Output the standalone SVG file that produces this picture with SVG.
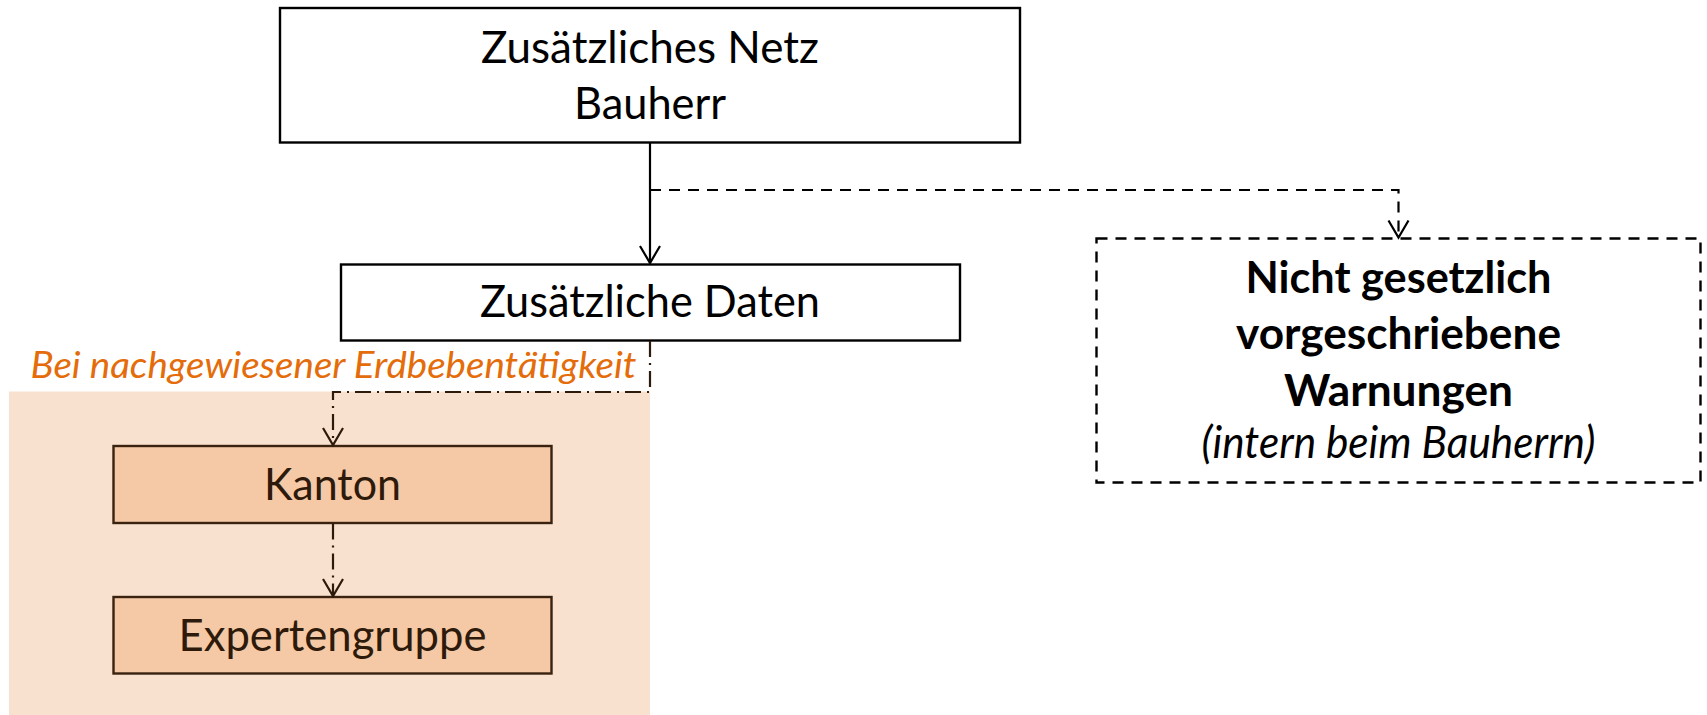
<svg xmlns="http://www.w3.org/2000/svg" width="1707" height="715" viewBox="0 0 1707 715">
<style>
.box{fill:#ffffff;stroke:#000000;stroke-width:2.4}
.obox{fill:#F5C9A5;stroke:#3A2210;stroke-width:2.4}
.dbox{fill:#ffffff;stroke:#000000;stroke-width:2.4;stroke-dasharray:11 8}
.t{font-family:Lato,"Open Sans","Liberation Sans",sans-serif;font-size:44px;fill:#000000;text-anchor:middle}
.tb{font-weight:bold}
.ti{font-style:italic}
.tbr{fill:#2E1A0A}
.lbl{font-family:Lato,"Open Sans","Liberation Sans",sans-serif;font-size:36px;font-style:italic;fill:#E46C0A}
.c{fill:none;stroke:#000000;stroke-width:2.2}
.cdash{stroke-dasharray:11 8}
.cdd{stroke:#2E1A0A;stroke-dasharray:16 6 2 6}
</style>
<defs>
<marker id="arr" viewBox="0 0 20 22" refX="18" refY="11" markerWidth="20" markerHeight="22" markerUnits="userSpaceOnUse" orient="auto" overflow="visible">
<path d="M1,1 L18,11 L1,21" fill="none" stroke="#000000" stroke-width="2.2"/>
</marker>
<marker id="arrb" viewBox="0 0 20 22" refX="18" refY="11" markerWidth="20" markerHeight="22" markerUnits="userSpaceOnUse" orient="auto" overflow="visible">
<path d="M1,1 L18,11 L1,21" fill="none" stroke="#2E1A0A" stroke-width="2.2"/>
</marker>
</defs>
<rect id="bg-region" x="9" y="391.5" width="641" height="324" fill="#F9E1CF"/>
<text id="label-erdbeben" class="lbl" x="30.5" y="378" textLength="606" lengthAdjust="spacingAndGlyphs">Bei nachgewiesener Erdbebentätigkeit</text>
<g id="node-netz">
<rect class="box" x="280" y="8" width="740" height="134.5"/>
<text class="t" x="650" y="63" textLength="338" lengthAdjust="spacingAndGlyphs">Zusätzliches Netz</text>
<text class="t" x="650" y="119" textLength="152" lengthAdjust="spacingAndGlyphs">Bauherr</text>
</g>
<g id="node-daten">
<rect class="box" x="341" y="264.5" width="619" height="76"/>
<text class="t" x="650" y="317" textLength="340" lengthAdjust="spacingAndGlyphs">Zusätzliche Daten</text>
</g>
<g id="node-warnungen">
<rect class="dbox" x="1096.5" y="238.5" width="604" height="244"/>
<text class="t tb" x="1398.5" y="293" textLength="306" lengthAdjust="spacingAndGlyphs">Nicht gesetzlich</text>
<text class="t tb" x="1398.5" y="349" textLength="325" lengthAdjust="spacingAndGlyphs">vorgeschriebene</text>
<text class="t tb" x="1398.5" y="406" textLength="229" lengthAdjust="spacingAndGlyphs">Warnungen</text>
<text class="t ti" x="1398.5" y="458" textLength="394" lengthAdjust="spacingAndGlyphs">(intern beim Bauherrn)</text>
</g>
<g id="node-kanton">
<rect class="obox" x="113.5" y="446" width="438" height="77"/>
<text class="t tbr" x="332.5" y="500" textLength="137" lengthAdjust="spacingAndGlyphs">Kanton</text>
</g>
<g id="node-experten">
<rect class="obox" x="113.5" y="597" width="438" height="76.5"/>
<text class="t tbr" x="332.5" y="651" textLength="308" lengthAdjust="spacingAndGlyphs">Expertengruppe</text>
</g>
<g id="connectors">
<path class="c" d="M650,142.5 L650,263" marker-end="url(#arr)"/>
<path class="c cdash" d="M650,190 L1398.5,190 L1398.5,237.5" marker-end="url(#arr)"/>
<path class="c cdd" d="M650,341 L650,392 L333,392 L333,445" marker-end="url(#arrb)"/>
<path class="c cdd" d="M333,523.5 L333,596" marker-end="url(#arrb)"/>
</g>
</svg>
